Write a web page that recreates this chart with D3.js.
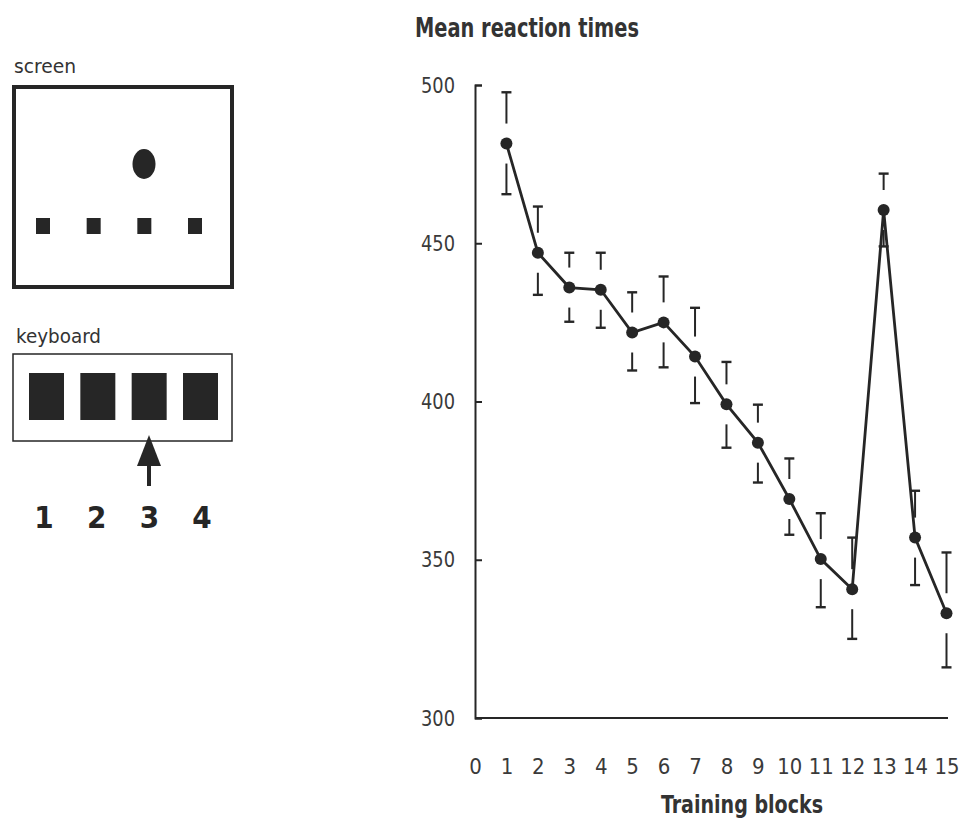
<!DOCTYPE html>
<html>
<head>
<meta charset="utf-8">
<script src="https://cdn.jsdelivr.net/npm/d3@7"></script>
<style>
  body { margin: 0; background: #fff; }
  svg { display: block; }
  .narrow { font-family: "Liberation Sans Narrow", "DejaVu Sans Condensed", "Arial Narrow", sans-serif; }
</style>
</head>
<body>
<div id="chart-area"></div>
<script>
// chart values
let blocks = [1, 2, 3, 4, 5, 6, 7, 8, 9, 10, 11, 12, 13, 14, 15];
let meanRT = [481.5, 447, 436, 435.3, 421.8, 425, 414.2, 399.1, 387, 369.2, 350.2, 340.7, 460.5, 357, 333.1];
let errHigh = [497.7, 461.6, 447, 447, 434.5, 439.5, 429.6, 412.5, 399, 382, 364.7, 357, 472, 371.8, 352.3];
let errLow = [465.5, 433.7, 425.2, 423.3, 409.8, 410.8, 399.5, 385.4, 374.4, 357.9, 335, 325, 449, 342, 316];
let yTicks = [300, 350, 400, 450, 500];
let xTicks = d3.range(0, 16);
let keyLabels = ["1", "2", "3", "4"];

let data = blocks.map((b, i) => ({block: b, mean: meanRT[i], hi: errHigh[i], lo: errLow[i]}));

let ink = "#262626";

let svg = d3.select("#chart-area").append("svg")
	.attr("width", 961)
	.attr("height", 823);

// ---- left: screen / keyboard sketch ----
let sketch = svg.append("g").attr("class", "narrow");

sketch.append("text")
	.attr("x", 14).attr("y", 73)
	.attr("font-size", 20)
	.attr("textLength", 62)
	.attr("lengthAdjust", "spacingAndGlyphs")
	.attr("fill", "#333")
	.text("screen");

sketch.append("rect")
	.attr("x", 14).attr("y", 87)
	.attr("width", 218).attr("height", 200)
	.attr("fill", "none")
	.attr("stroke", ink)
	.attr("stroke-width", 4);

sketch.append("ellipse")
	.attr("cx", 144).attr("cy", 164)
	.attr("rx", 11.5).attr("ry", 15)
	.attr("fill", ink);

// four little squares on the screen, one per key
let slotX = d3.scalePoint().domain(keyLabels).range([43, 195]);

sketch.selectAll(".slot")
	.data(keyLabels)
	.enter().append("rect")
	.attr("class", "slot")
	.attr("x", d => slotX(d) - 7)
	.attr("y", 218)
	.attr("width", 14).attr("height", 16)
	.attr("fill", ink);

sketch.append("text")
	.attr("x", 16).attr("y", 343)
	.attr("font-size", 20)
	.attr("textLength", 85)
	.attr("lengthAdjust", "spacingAndGlyphs")
	.attr("fill", "#333")
	.text("keyboard");

sketch.append("rect")
	.attr("x", 13).attr("y", 354)
	.attr("width", 219).attr("height", 87)
	.attr("fill", "none")
	.attr("stroke", ink)
	.attr("stroke-width", 1.5);

let keyX = d3.scalePoint().domain(keyLabels).range([46.5, 200.5]);

sketch.selectAll(".key")
	.data(keyLabels)
	.enter().append("rect")
	.attr("class", "key")
	.attr("x", d => keyX(d) - 17.5)
	.attr("y", 373)
	.attr("width", 35).attr("height", 47)
	.attr("fill", ink);

// arrow under key 3
sketch.append("path")
	.attr("d", "M149,435 L137,466 L161,466 Z")
	.attr("fill", ink);
sketch.append("rect")
	.attr("x", 147).attr("y", 464)
	.attr("width", 4).attr("height", 22)
	.attr("fill", ink);

let numX = d3.scalePoint().domain(keyLabels).range([44, 202]);

sketch.selectAll(".keylabel")
	.data(keyLabels)
	.enter().append("text")
	.attr("class", "keylabel")
	.attr("x", d => numX(d))
	.attr("y", 528)
	.attr("text-anchor", "middle")
	.attr("font-size", 31)
	.attr("font-weight", "bold")
	.attr("fill", ink)
	.text(d => d);

// ---- right: mean reaction times ----
let xScale = d3.scaleLinear().domain([0, 15]).range([475, 946.5]);
let yScale = d3.scaleLinear().domain([300, 500]).range([718, 85]);

let chart = svg.append("g").attr("class", "narrow");

chart.append("text")
	.attr("x", 415).attr("y", 37)
	.attr("font-size", 27)
	.attr("font-weight", "bold")
	.attr("textLength", 224)
	.attr("lengthAdjust", "spacingAndGlyphs")
	.attr("fill", "#333")
	.text("Mean reaction times");

let yAxis = d3.axisLeft(yScale)
	.tickValues(yTicks)
	.tickSizeInner(-7)
	.tickSizeOuter(-7)
	.tickPadding(20);

let yAxisGroup = chart.append("g")
	.attr("transform", "translate(475,0)")
	.call(yAxis);

let xAxis = d3.axisBottom(xScale)
	.tickValues(xTicks)
	.tickSize(0)
	.tickPadding(40)
	.tickFormat(d3.format("d"));

let xAxisGroup = chart.append("g")
	.attr("transform", "translate(0,718)")
	.call(xAxis);

chart.selectAll(".domain, .tick line")
	.attr("stroke", ink)
	.attr("stroke-width", 2);
yAxisGroup.attr("font-family", null).attr("font-size", 22);
xAxisGroup.attr("font-family", null).attr("font-size", 22);
chart.selectAll(".tick text")
	.attr("fill", "#3a3a3a");
// squeeze the three-digit labels a bit, like the narrow face of the original
yAxisGroup.selectAll(".tick text")
	.attr("textLength", 34)
	.attr("lengthAdjust", "spacingAndGlyphs");
xAxisGroup.selectAll(".tick text")
	.filter(d => d >= 10)
	.attr("textLength", 25)
	.attr("lengthAdjust", "spacingAndGlyphs");
xAxisGroup.select(".domain").attr("d", "M475,0H948");

chart.append("text")
	.attr("x", 742).attr("y", 813)
	.attr("text-anchor", "middle")
	.attr("font-size", 25)
	.attr("font-weight", "bold")
	.attr("textLength", 162)
	.attr("lengthAdjust", "spacingAndGlyphs")
	.attr("fill", "#333")
	.text("Training blocks");

// error bars: whisker stops short of the dot, capped at the end
let gap = 20;
let capW = 5;

let bars = chart.append("g");
data.forEach(d => {
	let cx = xScale(d.block);
	let cy = yScale(d.mean);
	let top = yScale(d.hi);
	let bot = yScale(d.lo);
	let segs = [];
	if (top < cy - gap) segs.push([top, cy - gap]);
	if (bot > cy + gap) segs.push([cy + gap, bot]);
	segs.forEach(s => {
		bars.append("line")
			.attr("x1", cx).attr("x2", cx)
			.attr("y1", s[0]).attr("y2", s[1])
			.attr("stroke", ink).attr("stroke-width", 2);
	});
	[top, bot].forEach(y => {
		bars.append("line")
			.attr("x1", cx - capW).attr("x2", cx + capW)
			.attr("y1", y).attr("y2", y)
			.attr("stroke", ink).attr("stroke-width", 2.4);
	});
});

let line = d3.line()
	.x(d => xScale(d.block))
	.y(d => yScale(d.mean));

chart.append("path")
	.datum(data)
	.attr("d", line)
	.attr("fill", "none")
	.attr("stroke", ink)
	.attr("stroke-width", 2.8);

chart.selectAll("circle")
	.data(data)
	.enter().append("circle")
	.attr("cx", d => xScale(d.block))
	.attr("cy", d => yScale(d.mean))
	.attr("r", 6)
	.attr("fill", ink);
</script>
</body>
</html>
